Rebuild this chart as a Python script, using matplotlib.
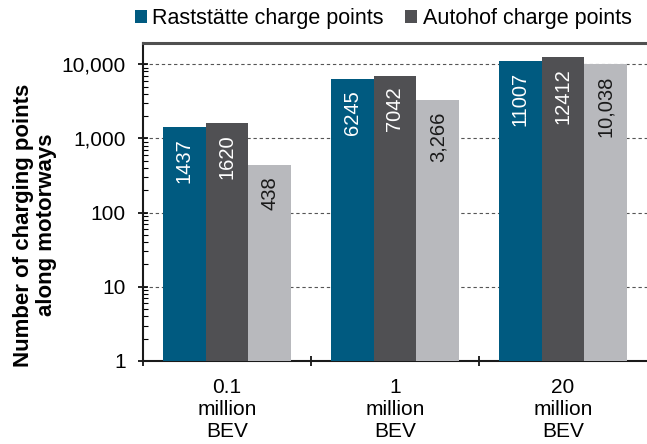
import numpy as np
import matplotlib.pyplot as plt
from matplotlib.ticker import FixedLocator, FuncFormatter, LogLocator, NullFormatter

plt.rcParams['font.family'] = ['Liberation Sans', 'DejaVu Sans']

# Data
categories = ['0.1\nmillion\nBEV', '1\nmillion\nBEV', '20\nmillion\nBEV']
raststaette = [1437, 6245, 11007]
autohof = [1620, 7042, 12412]
third = [438, 3266, 10038]
raststaette_labels = ['1437', '6245', '11007']
autohof_labels = ['1620', '7042', '12412']
third_labels = ['438', '3,266', '10,038']

fig = plt.figure(figsize=(6.47, 4.44), dpi=100)
ax = fig.add_axes([0.221, 0.187, 0.779, 0.716])

x = np.arange(len(categories))
w = 0.255
c_blue = '#005a80'
c_dark = '#505053'
c_light = '#b8b9bd'

b1 = ax.bar(x - w, raststaette, w, color=c_blue, label='Raststätte charge points', zorder=3)
b2 = ax.bar(x, autohof, w, color=c_dark, label='Autohof charge points', zorder=3)
b3 = ax.bar(x + w, third, w, color=c_light, zorder=3)

# value labels written upwards inside the top of each bar
for bars, labels, col in [(b1, raststaette_labels, 'white'),
                          (b2, autohof_labels, 'white'),
                          (b3, third_labels, '#1a1a1a')]:
    for bar, lab in zip(bars, labels):
        ax.annotate(lab, (bar.get_x() + bar.get_width() / 2, bar.get_height()),
                    xytext=(0, -8), textcoords='offset points',
                    rotation=90, ha='center', va='top', color=col,
                    fontsize=14.5, zorder=4)

ax.set_yscale('log')
ax.set_ylim(1, 19300)
ax.set_xlim(-0.5, 2.5)
ax.yaxis.set_major_locator(FixedLocator([1, 10, 100, 1000, 10000]))
ax.yaxis.set_major_formatter(FuncFormatter(lambda v, p: f'{int(v):,}'))
ax.yaxis.set_minor_locator(LogLocator(base=10, subs=np.arange(2, 10)))
ax.yaxis.set_minor_formatter(NullFormatter())
ax.grid(axis='y', which='major', linestyle=(0, (3, 2.5)), color='#555555', linewidth=0.8, zorder=0)

ax.set_xticks(x)
ax.set_xticklabels(categories, fontsize=15, linespacing=1.22)
ax.xaxis.set_minor_locator(FixedLocator([-0.5, 0.5, 1.5]))
ax.tick_params(axis='x', which='major', length=0, pad=12)
ax.tick_params(axis='x', which='minor', length=7, direction='inout', width=1.2)
ax.tick_params(axis='y', which='major', labelsize=15, length=7, direction='inout', width=1.2, pad=9)
ax.tick_params(axis='y', which='minor', length=3.5, direction='in', width=0.8)

for s in ['left', 'bottom']:
    ax.spines[s].set_linewidth(1.5)
    ax.spines[s].set_color('#1a1a1a')
ax.spines['top'].set_color('#505050')
ax.spines['top'].set_linewidth(2.2)
ax.spines['right'].set_visible(False)

fig.text(35 / 647, 0.493, 'Number of charging points\nalong motorways', fontsize=16,
         fontweight='bold', rotation=90, ha='center', va='center',
         multialignment='center', linespacing=1.15)

fig.legend(handles=[b1, b2], loc='center left', bbox_to_anchor=(0.209, 0.958), ncol=2,
           frameon=False, fontsize=15.5, handlelength=0.55, handleheight=0.55,
           handletextpad=0.25, columnspacing=1.0, borderpad=0.0, borderaxespad=0.0)

fig.savefig('out.png', dpi=100)
